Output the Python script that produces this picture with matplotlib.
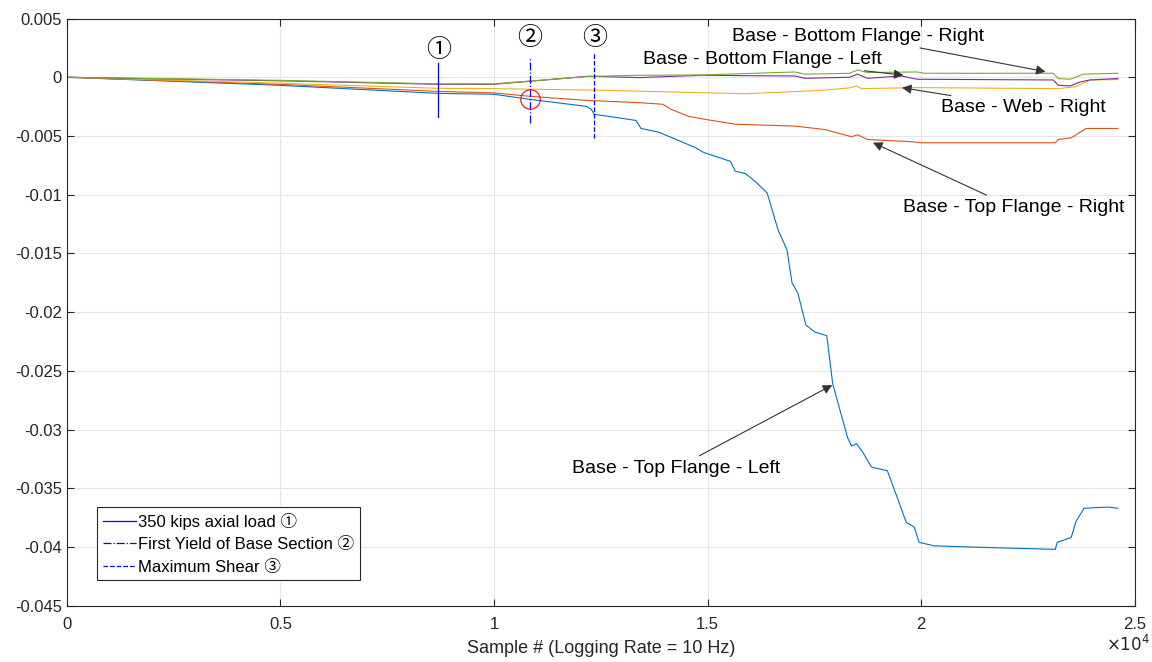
import numpy as np
import matplotlib
matplotlib.use('Agg')
import matplotlib.pyplot as plt

plt.rcParams['font.family'] = ['Liberation Sans', 'Noto Sans CJK JP', 'DejaVu Sans']

# strain readings at the base section
tfl_x = [0, 4953, 8674, 10000, 10837, 12163, 12279, 12349, 12860, 13326, 13442, 13860,
         14721, 14907, 15535, 15651, 15884, 16116, 16395, 16651, 16860, 16977, 17116,
         17302, 17512, 17791, 17930, 18279, 18372, 18488, 18628, 18837, 19209, 19442,
         19651, 19837, 19953, 20302, 21698, 23140, 23186, 23512, 23628, 23814, 24372, 24605]
tfl_y = [0, -0.00068, -0.00137, -0.00145, -0.00188, -0.00248, -0.00274, -0.00316, -0.00342,
         -0.00368, -0.00436, -0.00468, -0.0060, -0.0064, -0.00716, -0.0080, -0.0082, -0.00887,
         -0.00986, -0.0130, -0.0147, -0.0175, -0.0184, -0.0211, -0.0217, -0.0220, -0.0261,
         -0.0307, -0.0314, -0.0312, -0.0319, -0.0332, -0.0335, -0.0358, -0.0379, -0.0383,
         -0.0396, -0.0399, -0.04006, -0.0402, -0.0396, -0.0392, -0.0378, -0.0367, -0.0366, -0.0367]

tfr_x = [0, 4953, 8674, 10000, 10837, 12163, 13395, 13953, 14150, 14558, 14953, 15651,
         17047, 17744, 18372, 18512, 18744, 19837, 20000, 23140, 23209, 23512, 23860, 24605]
tfr_y = [0, -0.0006, -0.0012, -0.00133, -0.00162, -0.00197, -0.00216, -0.0023, -0.00274,
         -0.00333, -0.00359, -0.0040, -0.00416, -0.00445, -0.00507, -0.0049, -0.0053,
         -0.0055, -0.00558, -0.00558, -0.0053, -0.00516, -0.00436, -0.00436]

web_x = [0, 4953, 8674, 10000, 12395, 14721, 15884, 17047, 17744, 18326, 18488, 18605,
         19907, 23209, 23628, 23953, 24605]
web_y = [0, -0.0005, -0.00094, -0.00097, -0.0011, -0.0013, -0.0014, -0.00122, -0.0011,
         -0.0009, -0.00074, -0.00097, -0.00088, -0.00097, -0.0008, -0.00023, -0.0002]

bfl_x = [0, 4953, 8674, 10000, 12233, 13395, 14907, 16116, 17047, 17279, 18326, 18512,
         18744, 19535, 19907, 23093, 23209, 23488, 23721, 23953, 24605]
bfl_y = [0, -0.0003, -0.0006, -0.0006, 0.00009, -0.00003, 0.00017, 0.00013, 0.00011,
         -0.00009, 0.0, 0.00026, -0.00009, 0.00011, -0.00017, -0.00023, -0.00068, -0.00074,
         -0.0004, -0.00023, -0.00011]

bfr_x = [0, 4953, 8674, 10000, 12233, 13395, 14907, 16116, 17047, 17279, 18326, 18512,
         18744, 19907, 20070, 23093, 23209, 23488, 23791, 24605]
bfr_y = [0, -0.00026, -0.00056, -0.00056, 0.00007, 0.00017, 0.0002, 0.00034, 0.00045,
         0.00026, 0.00034, 0.00062, 0.0004, 0.00045, 0.00034, 0.00034, -0.00011, -0.00017,
         0.00026, 0.00034]

# event markers
event_x = [8700, 10837, 12349]
event_top = [0.00124, 0.00167, 0.0021]
event_bot = [-0.00336, -0.00392, -0.0052]
event_styles = ['-', '-.', '--']
event_labels = ['350 kips axial load \u2460', 'First Yield of Base Section \u2461', 'Maximum Shear \u2462']
event_marks = ['\u2460', '\u2461', '\u2462']
event_mark_y = [0.00228, 0.00338, 0.00338]

yield_pt = (10837, -0.00188)

yticks = [0.005, 0, -0.005, -0.01, -0.015, -0.02, -0.025, -0.03, -0.035, -0.04, -0.045]
ytick_labels = ['0.005', '0', '-0.005', '-0.01', '-0.015', '-0.02', '-0.025', '-0.03', '-0.035', '-0.04', '-0.045']
xticks = [0, 5000, 10000, 15000, 20000, 25000]
xtick_labels = ['0', '0.5', '1', '1.5', '2', '2.5']

fig = plt.figure(figsize=(11.52, 6.62), dpi=100)
ax = fig.add_axes([0.058, 0.085, 0.927, 0.887])

lw = 0.8
ax.plot(tfl_x, tfl_y, color='#0072BD', lw=lw)
ax.plot(tfr_x, tfr_y, color='#D95319', lw=lw)
ax.plot(web_x, web_y, color='#EDB120', lw=lw)
ax.plot(bfl_x, bfl_y, color='#7E2F8E', lw=lw)
ax.plot(bfr_x, bfr_y, color='#77AC30', lw=lw)

handles = []
for x, t, b, ls, lab in zip(event_x, event_top, event_bot, event_styles, event_labels):
    h, = ax.plot([x, x], [b, t], color='#0000FF', lw=0.9, ls=ls, label=lab)
    handles.append(h)
for x, y, m in zip(event_x, event_mark_y, event_marks):
    ax.text(x, y, m, ha='center', va='center', fontsize=18,
            family=['Noto Sans CJK JP', 'DejaVu Sans'])

ax.plot([yield_pt[0]], [yield_pt[1]], marker='o', ms=14, mfc='none', mec='red', mew=0.8)

arrow = dict(arrowstyle='-|>', color='#333333', lw=0.8, mutation_scale=14)
tsize = 14
ax.annotate('Base - Bottom Flange - Right', xy=(22977, 0.00043), xytext=(18512, 0.0035),
            ha='center', va='center', fontsize=tsize, arrowprops=arrow)
ax.annotate('Base - Bottom Flange - Left', xy=(19650, 0.00015), xytext=(16279, 0.00154),
            ha='center', va='center', fontsize=tsize, arrowprops=arrow)
ax.annotate('Base - Web - Right', xy=(19488, -0.00085), xytext=(22395, -0.00256),
            ha='center', va='center', fontsize=tsize, arrowprops=arrow)
ax.annotate('Base - Top Flange - Right', xy=(18814, -0.00547), xytext=(22163, -0.0111),
            ha='center', va='center', fontsize=tsize, arrowprops=arrow)
ax.annotate('Base - Top Flange - Left', xy=(17977, -0.0261), xytext=(14256, -0.0333),
            ha='center', va='center', fontsize=tsize, arrowprops=arrow)

ax.set_xlim(0, 25000)
ax.set_ylim(-0.045, 0.005)
ax.set_yticks(yticks)
ax.set_yticklabels(ytick_labels)
ax.set_xticks(xticks)
ax.set_xticklabels(xtick_labels)
ax.tick_params(direction='in', top=True, right=True, labelsize=12, colors='#262626', length=5)
ax.tick_params(axis='x', pad=8)
for s in ax.spines.values():
    s.set_color('#262626')
    s.set_linewidth(0.8)
ax.grid(True, color='#e6e6e6', lw=0.8)
ax.set_axisbelow(True)
ax.set_xlabel('Sample # (Logging Rate = 10 Hz)', fontsize=13, color='#262626', labelpad=6)
fig.text(0.998, 0.012, r'$\times 10^4$', ha='right', va='bottom', fontsize=12, color='#262626')

leg = ax.legend(handles=handles, loc='lower left', bbox_to_anchor=(0.028, 0.043),
                fontsize=12, fancybox=False, edgecolor='#262626', framealpha=1,
                handlelength=2.0, handletextpad=0.1, borderpad=0.35, labelspacing=0.45,
                borderaxespad=0)
leg.get_frame().set_linewidth(0.8)

fig.savefig('out.png', dpi=100)
